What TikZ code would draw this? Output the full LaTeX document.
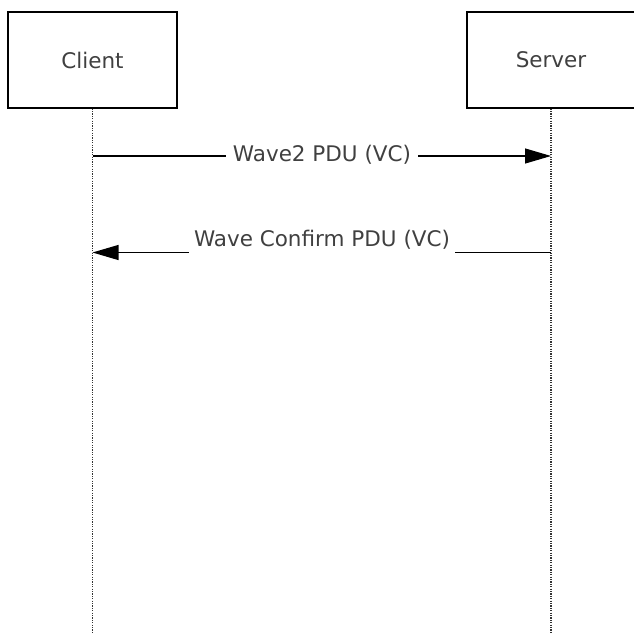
\documentclass[tikz,border=0pt]{standalone}
\usepackage{fontspec}
\setmainfont{DejaVu Sans}
\usetikzlibrary{arrows.meta}
\definecolor{txt}{RGB}{64,64,64}
\begin{document}
\begin{tikzpicture}[x=1pt,y=-1pt,
  actor/.style={draw=black,line width=1.2pt,fill=white,minimum height=96pt,inner sep=0pt,text=txt,font=\fontsize{21.5}{26}\selectfont},
  lifeline/.style={draw=black!80,line width=1.3pt,dash pattern=on 1.2pt off 1.2pt},
  msg/.style={draw=black,line width=1.1pt,-{Triangle[length=26pt,width=15pt]}},
  lbl/.style={fill=white,text=txt,inner sep=5pt,font=\fontsize{21.5}{26}\selectfont}]
\useasboundingbox (0,0) rectangle (633,634);
\node[actor,minimum width=169pt] (client) at (92.5,60) {Client};
\node[actor,minimum width=168pt] (server) at (551,60) {Server};
\coordinate (cend) at (92.5,634);
\coordinate (send) at (551,634);
\draw[lifeline] (client.south) -- (cend);
\draw[lifeline] (server.south) -- (send);
\coordinate (c1) at (92.5,156);
\coordinate (s1) at (551,156);
\coordinate (c2) at (92.5,252.5);
\coordinate (s2) at (551,252.5);
\draw[msg] (c1) -- (s1);
\node[lbl,inner xsep=7pt] (m1) at (322,155) {Wave2 PDU (VC)};
\draw[msg] (s2) -- (c2);
\node[lbl] (m2) at (322,240) {Wave Confirm PDU (VC)};
\end{tikzpicture}
\end{document}
